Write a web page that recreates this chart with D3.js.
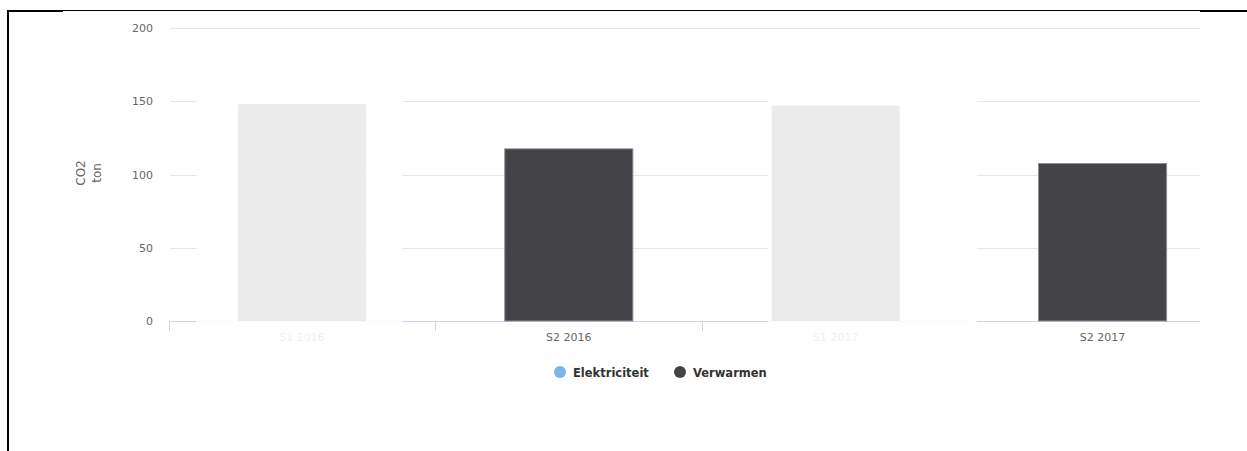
<!DOCTYPE html>
<html>
<head>
<meta charset="utf-8">
<script src="https://cdn.jsdelivr.net/npm/d3@7"></script>
<style>
  html, body { margin: 0; padding: 0; background: #fff; }
  svg { display: block; }
</style>
</head>
<body>
<div id="chart"></div>
<script>
const CATEGORIES = ["S1 2016", "S2 2016", "S1 2017", "S2 2017"]
const SERIES = ["Elektriciteit", "Verwarmen"]
const SERIES_COLORS = ["#7cb5ec", "#434348"]
// one bar per category; the S1 bars belong to the faded (inactive) series
const VALUES = [148, 117.5, 147, 107.5]
const BAR_SERIES = [0, 1, 0, 1]
const Y_TICKS = [0, 50, 100, 150, 200]

const width = 1247
const height = 451

const svg = d3.select("#chart")
  .append("svg")
  .attr("width", width)
  .attr("height", height)
  .style("font-family", "'DejaVu Sans', Verdana, sans-serif")

// page frame
svg.append("line").attr("x1", 8).attr("x2", 8).attr("y1", 10).attr("y2", height)
  .attr("stroke", "#000").attr("stroke-width", 2)
svg.append("line").attr("x1", 8).attr("x2", width).attr("y1", 10.5).attr("y2", 10.5)
  .attr("stroke", "#000").attr("stroke-width", 1)
svg.append("line").attr("x1", 8).attr("x2", 63).attr("y1", 11).attr("y2", 11)
  .attr("stroke", "#000").attr("stroke-width", 2)
svg.append("line").attr("x1", 1200).attr("x2", width).attr("y1", 11).attr("y2", 11)
  .attr("stroke", "#000").attr("stroke-width", 2)

const plotLeft = 170
const plotRight = 1200
const y = d3.scaleLinear().domain([0, 200]).range([321, 28])
const x = d3.scaleBand().domain(CATEGORIES).range([168.5, 1236]).paddingInner(0).paddingOuter(0)
const barW = x.bandwidth() * 0.48

// gridlines
svg.append("g")
  .selectAll("line")
  .data(Y_TICKS.filter(d => d > 0))
  .enter()
  .append("line")
  .attr("x1", plotLeft)
  .attr("x2", plotRight)
  .attr("y1", d => Math.round(y(d)) + 0.5)
  .attr("y2", d => Math.round(y(d)) + 0.5)
  .attr("stroke", "#e6e6e6")

// y labels
svg.append("g")
  .selectAll("text")
  .data(Y_TICKS)
  .enter()
  .append("text")
  .attr("x", 153)
  .attr("y", d => y(d) + 4)
  .attr("text-anchor", "end")
  .attr("fill", "#666")
  .attr("font-size", "11px")
  .text(d => d)

// y title
const yTitle = svg.append("text")
  .attr("transform", "translate(85,173) rotate(-90)")
  .attr("text-anchor", "middle")
  .attr("fill", "#666")
  .attr("font-size", "12px")
yTitle.append("tspan").attr("x", 0).attr("dy", 0).text("CO2")
yTitle.append("tspan").attr("x", 0).attr("dy", 16).text("ton")

// x axis line and ticks
svg.append("line")
  .attr("x1", plotLeft).attr("x2", plotRight)
  .attr("y1", 321.5).attr("y2", 321.5)
  .attr("stroke", "#ccd6eb")
svg.append("g")
  .selectAll("line")
  .data(CATEGORIES)
  .enter()
  .append("line")
  .attr("x1", d => Math.round(x(d)) + 0.5)
  .attr("x2", d => Math.round(x(d)) + 0.5)
  .attr("y1", 321)
  .attr("y2", 331)
  .attr("stroke", "#ccd6eb")

// x labels
svg.append("g")
  .selectAll("text")
  .data(CATEGORIES)
  .enter()
  .append("text")
  .attr("x", d => x(d) + x.bandwidth() / 2)
  .attr("y", 341)
  .attr("text-anchor", "middle")
  .attr("fill", "#666")
  .attr("font-size", "11px")
  .text(d => d)

// inactive overlays around the faded series
const FADE_BANDS = [[196, 403], [768, 977]]
svg.append("g")
  .selectAll("rect")
  .data(FADE_BANDS)
  .enter()
  .append("rect")
  .attr("x", d => d[0])
  .attr("width", d => d[1] - d[0])
  .attr("y", 100)
  .attr("height", 250)
  .attr("fill", "#fff")
  .attr("opacity", 0.9)

// bars
svg.append("g")
  .selectAll("rect")
  .data(CATEGORIES)
  .enter()
  .append("rect")
  .attr("x", d => x(d) + (x.bandwidth() - barW) / 2)
  .attr("width", barW)
  .attr("y", (d, i) => y(VALUES[i]))
  .attr("height", (d, i) => y(0) - y(VALUES[i]))
  .attr("fill", (d, i) => BAR_SERIES[i] === 0 ? "#ebebeb" : SERIES_COLORS[1])
  .attr("stroke", (d, i) => BAR_SERIES[i] === 0 ? "none" : "#8e8e92")
  .attr("stroke-width", 1)

// legend
const legendX = [560, 680]
const legend = svg.append("g")
  .selectAll("g")
  .data(SERIES)
  .enter()
  .append("g")
  .attr("transform", (d, i) => `translate(${legendX[i]},372)`)
legend.append("circle")
  .attr("r", 6)
  .attr("fill", (d, i) => SERIES_COLORS[i])
legend.append("text")
  .attr("x", 13)
  .attr("y", 4.5)
  .attr("fill", "#333")
  .attr("font-size", "11.5px")
  .attr("font-weight", "bold")
  .text(d => d)
</script>
</body>
</html>
